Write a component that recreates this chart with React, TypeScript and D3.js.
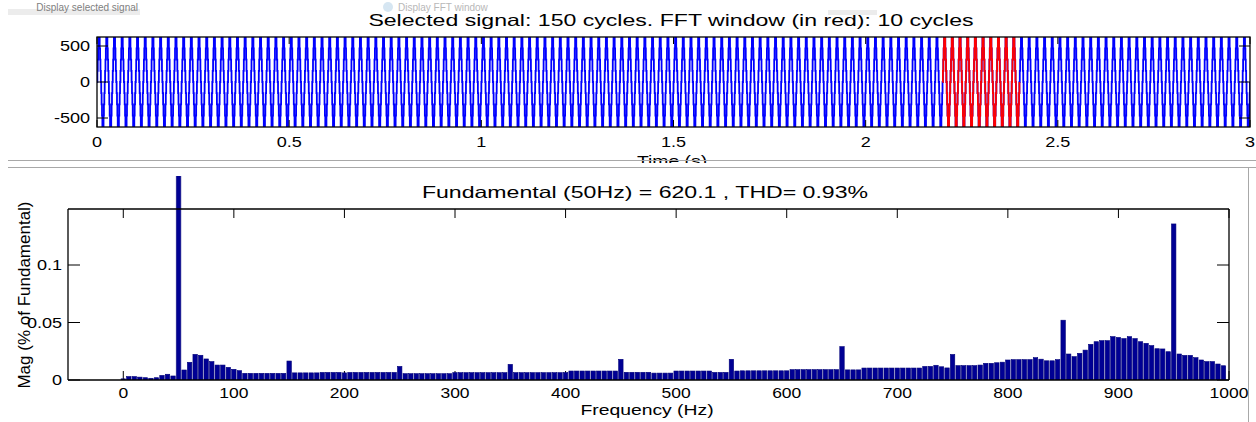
import React from "react";
import * as d3 from "d3";

// ---------- data ----------
const F0 = 50; // Hz
const N_CYCLES = 150;
const FFT_START_CYCLE = 110; // 2.2 s
const FFT_CYCLES = 10;
// one cycle of the staircase signal (20 equal sub-intervals per cycle)
const CYCLE_LEVELS = [0, 155, 310, 465, 620, 620, 620, 465, 310, 155, 0, -155, -310, -465, -620, -620, -620, -465, -310, -155];

const TIME_TICKS = [0, 0.5, 1, 1.5, 2, 2.5, 3];
const TIME_TICK_LABELS = ["0", "0.5", "1", "1.5", "2", "2.5", "3"];
const SIG_TICKS = [500, 0, -500];
const SIG_TICK_LABELS = ["500", "0", "-500"];

const FREQ_TICKS = [0, 100, 200, 300, 400, 500, 600, 700, 800, 900, 1000];
const MAG_TICKS = [0, 0.05, 0.1];
const MAG_TICK_LABELS = ["0", "0.05", "0.1"];

const FREQS = d3.range(0, 1005, 5);
// magnitude (% of fundamental) at 0,5,10,...,1000 Hz
const MAGS = [
  0.001, 0.003, 0.003, 0.0025, 0.002, 0.0015, 0.002, 0.004, 0.005, 0.0035, // 0-45
  100, 0.0087, 0.0154, 0.0223, 0.0215, 0.0183, 0.016, 0.013, 0.013, 0.011, // 50-95
  0.0093, 0.0081, 0.0058, 0.0058, 0.0058, 0.0058, 0.0058, 0.0058, 0.0058, 0.0058, // 100-145
  0.0165, 0.0062, 0.0062, 0.0062, 0.0062, 0.0062, 0.0066, 0.0066, 0.0066, 0.0066, // 150-195
  0.0062, 0.0066, 0.0066, 0.0066, 0.0066, 0.0066, 0.0066, 0.0066, 0.0066, 0.0066, // 200-245
  0.0118, 0.0055, 0.0055, 0.0055, 0.0055, 0.0055, 0.0055, 0.0055, 0.0055, 0.0055, // 250-295
  0.0064, 0.0064, 0.0064, 0.0064, 0.0064, 0.0064, 0.0064, 0.0064, 0.0064, 0.0064, // 300-345
  0.0136, 0.0064, 0.0064, 0.0064, 0.0064, 0.0064, 0.0064, 0.0064, 0.0064, 0.0064, // 350-395
  0.0064, 0.0078, 0.0078, 0.0078, 0.0078, 0.0078, 0.0078, 0.0078, 0.0078, 0.0078, // 400-445
  0.018, 0.0067, 0.0067, 0.0067, 0.0067, 0.0067, 0.006, 0.006, 0.006, 0.006, // 450-495
  0.0078, 0.0078, 0.0078, 0.0078, 0.0078, 0.0078, 0.0078, 0.0066, 0.0066, 0.0066, // 500-545
  0.018, 0.0078, 0.008, 0.008, 0.008, 0.008, 0.008, 0.008, 0.008, 0.008, // 550-595
  0.008, 0.009, 0.009, 0.009, 0.009, 0.009, 0.009, 0.009, 0.009, 0.009, // 600-645
  0.029, 0.0088, 0.0088, 0.0088, 0.0104, 0.0104, 0.0104, 0.0104, 0.0104, 0.0104, // 650-695
  0.0104, 0.0104, 0.0104, 0.0104, 0.0104, 0.0118, 0.0118, 0.0128, 0.0115, 0.0105, // 700-745
  0.0222, 0.0125, 0.0125, 0.0125, 0.0125, 0.013, 0.0145, 0.0145, 0.015, 0.0155, // 750-795
  0.0174, 0.0177, 0.0177, 0.0177, 0.0177, 0.0194, 0.0181, 0.0167, 0.0167, 0.0177, // 800-845
  0.052, 0.0226, 0.0203, 0.0232, 0.026, 0.031, 0.0333, 0.0342, 0.0342, 0.0377, // 850-895
  0.037, 0.036, 0.0377, 0.036, 0.0333, 0.0319, 0.0299, 0.0272, 0.027, 0.0246, // 900-945
  0.1357, 0.0226, 0.0214, 0.0214, 0.0194, 0.0174, 0.016, 0.016, 0.0139, 0.0124, // 950-995
  0, // 1000
];

const TOP_TITLE = "Selected signal: 150 cycles. FFT window (in red): 10 cycles";
const BOTTOM_TITLE = "Fundamental (50Hz) = 620.1 , THD= 0.93%";

// ---------- layout ----------
const W = 1256;
const H = 422;
const FONT = "'Liberation Sans', Arial, Helvetica, sans-serif";

const xTime = d3.scaleLinear().domain([0, 3]).range([97, 1250]);
const ySig = d3.scaleLinear().domain([-625, 625]).range([127, 37]);
const xFreq = d3.scaleLinear().domain([-50, 1000]).range([68, 1229]);
const yMag = d3.scaleLinear().domain([0, 0.1487]).range([380, 209]);

function buildSignal(c0: number, c1: number): [number, number][] {
  const pts: [number, number][] = [];
  const n = CYCLE_LEVELS.length;
  const dt = 1 / F0 / n;
  for (let c = c0; c < c1; c++) {
    for (let k = 0; k < n; k++) {
      pts.push([(c * n + k) * dt, CYCLE_LEVELS[k]]);
    }
  }
  pts.push([(c1 * n) * dt, CYCLE_LEVELS[0]]);
  return pts;
}

const sigLine = d3
  .line<[number, number]>()
  .x((d) => xTime(d[0]))
  .y((d) => ySig(d[1]))
  .curve(d3.curveStepAfter);

function SText(props: {
  x: number;
  y: number;
  size: number;
  sx?: number;
  anchor?: string;
  children: React.ReactNode;
  fill?: string;
}) {
  const { x, y, size, sx = 1, anchor = "middle", children, fill = "#000" } = props;
  return (
    <text
      transform={`translate(${x},${y}) scale(${sx},1)`}
      fontSize={size}
      fontFamily={FONT}
      textAnchor={anchor}
      fill={fill}
    >
      {children}
    </text>
  );
}

export default function App() {
  const bluePath = sigLine(buildSignal(0, N_CYCLES)) || "";
  const redPath = sigLine(buildSignal(FFT_START_CYCLE, FFT_START_CYCLE + FFT_CYCLES)) || "";
  const step = xFreq(5) - xFreq(0);
  const bw = step * 0.8;

  const tl = { x0: 97, x1: 1250, y0: 37, y1: 127 };
  const bl = { x0: 68, x1: 1229, y0: 209, y1: 380 };

  return (
    <svg
      width={W}
      height={H}
      viewBox={`0 0 ${W} ${H}`}
      style={{ position: "absolute", left: 0, top: 0, background: "#fff" }}
    >
      <defs>
        <clipPath id="sigClip">
          <rect x={tl.x0} y={tl.y0} width={tl.x1 - tl.x0} height={tl.y1 - tl.y0} />
        </clipPath>
        <clipPath id="barClip">
          <rect x={bl.x0} y={176} width={bl.x1 - bl.x0} height={bl.y1 - 176} />
        </clipPath>
      </defs>
      <rect x={0} y={0} width={W} height={H} fill="#fff" />

      {/* ===== top plot ===== */}
      <SText x={671} y={26} size={16.5} sx={1.4}>
        {TOP_TITLE}
      </SText>
      {/* overlay strip covering the title top */}
      <rect x={0} y={0} width={W} height={14} fill="#fff" />
      <rect x={8} y={9} width={132} height={6} fill="#ececec" />
      <rect x={828} y={10} width={49} height={5} fill="#ececec" />
      <SText x={138} y={11} size={10} anchor="end" fill="#808080">
        Display selected signal
      </SText>
      <circle cx={388} cy={7} r={5} fill="#d6e6f2" />
      <SText x={398} y={11} size={10} anchor="start" fill="#b8b8b8">
        Display FFT window
      </SText>

      <g clipPath="url(#sigClip)">
        <path d={bluePath} fill="none" stroke="#0000ff" strokeWidth={1.8} />
        <path d={redPath} fill="none" stroke="#ff0000" strokeWidth={1.8} />
      </g>
      {/* axes box */}
      <rect
        x={tl.x0}
        y={tl.y0}
        width={tl.x1 - tl.x0}
        height={tl.y1 - tl.y0}
        fill="none"
        stroke="#000"
        strokeWidth={1.3}
      />
      {TIME_TICKS.map((t, i) => (
        <g key={"tt" + i}>
          <line x1={xTime(t)} x2={xTime(t)} y1={tl.y1} y2={tl.y1 - 7} stroke="#000" />
          <line x1={xTime(t)} x2={xTime(t)} y1={tl.y0} y2={tl.y0 + 7} stroke="#000" />
          <SText x={xTime(t)} y={147} size={14} sx={1.29}>
            {TIME_TICK_LABELS[i]}
          </SText>
        </g>
      ))}
      {SIG_TICKS.map((v, i) => (
        <g key={"st" + i}>
          <line x1={tl.x0} x2={tl.x0 + 11} y1={ySig(v)} y2={ySig(v)} stroke="#000" />
          <line x1={tl.x1} x2={tl.x1 - 11} y1={ySig(v)} y2={ySig(v)} stroke="#000" />
          <SText x={90} y={ySig(v) + 5} size={14} sx={1.29} anchor="end">
            {SIG_TICK_LABELS[i]}
          </SText>
        </g>
      ))}
      <SText x={672} y={166} size={15} sx={1.29}>
        Time (s)
      </SText>

      {/* ===== lower panel ===== */}
      <rect x={0} y={163} width={W} height={H - 163} fill="#fff" />
      <line x1={8} x2={W} y1={160.5} y2={160.5} stroke="#a8a8a8" strokeWidth={1} />
      <line x1={8} x2={W} y1={167.5} y2={167.5} stroke="#a8a8a8" strokeWidth={1} />
      <line x1={1248.5} x2={1248.5} y1={167.5} y2={H} stroke="#a8a8a8" strokeWidth={1} />

      <SText x={645} y={198} size={16.5} sx={1.4}>
        {BOTTOM_TITLE}
      </SText>

      {/* ticks (under bars) */}
      {FREQ_TICKS.map((f, i) => (
        <g key={"ft" + i}>
          <line x1={xFreq(f)} x2={xFreq(f)} y1={bl.y1} y2={bl.y1 - 9} stroke="#000" />
          <line x1={xFreq(f)} x2={xFreq(f)} y1={bl.y0} y2={bl.y0 + 9} stroke="#000" />
          <SText x={xFreq(f)} y={398} size={14} sx={1.25}>
            {String(f)}
          </SText>
        </g>
      ))}
      {MAG_TICKS.map((v, i) => (
        <g key={"mt" + i}>
          <line x1={bl.x0} x2={bl.x0 + 12} y1={yMag(v)} y2={yMag(v)} stroke="#000" />
          <line x1={bl.x1} x2={bl.x1 - 12} y1={yMag(v)} y2={yMag(v)} stroke="#000" />
        </g>
      ))}

      {/* bars */}
      <g clipPath="url(#barClip)">
        {FREQS.map((f, i) => {
          const v = MAGS[i] ?? 0;
          if (v <= 0) return null;
          const y = yMag(v);
          return (
            <rect
              key={"b" + i}
              x={xFreq(f) - bw / 2}
              y={y}
              width={bw}
              height={bl.y1 - y}
              fill="#000094"
              stroke="#000078"
              strokeWidth={0.6}
            />
          );
        })}
      </g>

      {/* axis lines (left, top, right, bottom) */}
      <line x1={bl.x0} x2={bl.x1} y1={bl.y1} y2={bl.y1} stroke="#000" strokeWidth={1.5} />
      <line x1={bl.x0} x2={bl.x1} y1={bl.y0} y2={bl.y0} stroke="#000" strokeWidth={1.3} />
      <line x1={bl.x0} x2={bl.x0} y1={bl.y0} y2={bl.y1} stroke="#000" strokeWidth={1.3} />
      <line x1={bl.x1} x2={bl.x1} y1={bl.y0} y2={bl.y1} stroke="#000" strokeWidth={1.3} />

      {MAG_TICKS.map((v, i) => (
        <SText key={"ml" + i} x={62} y={yMag(v) + 5} size={14} sx={1.29} anchor="end">
          {MAG_TICK_LABELS[i]}
        </SText>
      ))}

      <text
        transform="translate(30,295) rotate(-90)"
        fontSize={17}
        fontFamily={FONT}
        textAnchor="middle"
        fill="#000"
      >
        Mag (% of Fundamental)
      </text>
      <SText x={647} y={415} size={15} sx={1.29}>
        Frequency (Hz)
      </SText>
    </svg>
  );
}
